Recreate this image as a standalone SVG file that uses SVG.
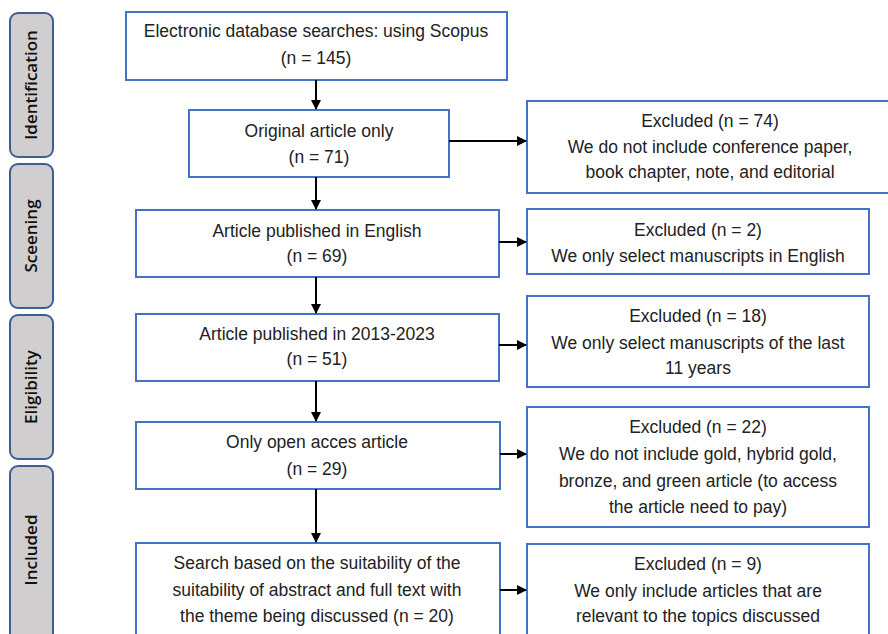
<svg xmlns="http://www.w3.org/2000/svg" width="888" height="634" viewBox="0 0 888 634">
<defs>
<marker id="ah" markerWidth="10" markerHeight="10" refX="9" refY="5" orient="auto" markerUnits="userSpaceOnUse">
<path d="M0,0 L10,5 L0,10 z" fill="#000"/>
</marker>
<style>
.box{fill:#fff;stroke:#4472c4;stroke-width:2}
.side{fill:#d0cece;stroke:#3e5f95;stroke-width:2}
.t{font-family:"Liberation Sans",Arial,sans-serif;font-size:17.5px;fill:#222;text-anchor:middle}
.s{font-family:"Open Sans","Liberation Sans",sans-serif;font-size:17px;font-weight:600;fill:#111;text-anchor:middle}
.c{stroke:#000;stroke-width:2;fill:none;marker-end:url(#ah)}
</style>
</defs>
<rect width="888" height="634" fill="#fff"/>
<g id="stage-identification"><rect class="side" x="10" y="13" width="43" height="144" rx="8"/><text class="s" transform="translate(37,85) rotate(-90)">Identification</text></g>
<g id="stage-screening"><rect class="side" x="10" y="164" width="43" height="144" rx="8"/><text class="s" transform="translate(37,236) rotate(-90)">Sceening</text></g>
<g id="stage-eligibility"><rect class="side" x="10" y="315" width="43" height="144" rx="8"/><text class="s" transform="translate(37,387) rotate(-90)">Eligibility</text></g>
<g id="stage-included"><rect class="side" x="10" y="466" width="43" height="180" rx="8"/><text class="s" transform="translate(37,550) rotate(-90)">Included</text></g>

<g id="n1"><rect class="box" x="126" y="12" width="381" height="68"/><text class="t" x="316" y="37">Electronic database searches: using Scopus</text><text class="t" x="316" y="64">(n = 145)</text></g>
<g id="n2"><rect class="box" x="189" y="110" width="260" height="67"/><text class="t" x="319" y="137">Original article only</text><text class="t" x="319" y="163">(n = 71)</text></g>
<g id="n3"><rect class="box" x="136" y="210" width="363" height="67"/><text class="t" x="317" y="237">Article published in English</text><text class="t" x="317" y="262">(n = 69)</text></g>
<g id="n4"><rect class="box" x="136" y="314" width="363" height="67"/><text class="t" x="317" y="340">Article published in 2013-2023</text><text class="t" x="317" y="365">(n = 51)</text></g>
<g id="n5"><rect class="box" x="136" y="422" width="364" height="67"/><text class="t" x="317" y="448">Only open acces article</text><text class="t" x="317" y="475">(n = 29)</text></g>
<g id="n6"><rect class="box" x="136" y="543" width="364" height="110"/><text class="t" x="317" y="569">Search based on the suitability of the</text><text class="t" x="317" y="596">suitability of abstract and full text with</text><text class="t" x="317" y="622">the theme being discussed (n = 20)</text></g>

<g id="e1"><rect class="box" x="527" y="101" width="380" height="92"/><text class="t" x="710" y="127">Excluded (n = 74)</text><text class="t" x="710" y="153">We do not include conference paper,</text><text class="t" x="710" y="178">book chapter, note, and editorial</text></g>
<g id="e2"><rect class="box" x="527" y="209" width="342" height="65"/><text class="t" x="698" y="236">Excluded (n = 2)</text><text class="t" x="698" y="262">We only select manuscripts in English</text></g>
<g id="e3"><rect class="box" x="527" y="296" width="342" height="91"/><text class="t" x="698" y="322">Excluded (n = 18)</text><text class="t" x="698" y="349">We only select manuscripts of the last</text><text class="t" x="698" y="374">11 years</text></g>
<g id="e4"><rect class="box" x="527" y="407" width="342" height="120"/><text class="t" x="698" y="433">Excluded (n = 22)</text><text class="t" x="698" y="460">We do not include gold, hybrid gold,</text><text class="t" x="698" y="487">bronze, and green article (to access</text><text class="t" x="698" y="513">the article need to pay)</text></g>
<g id="e5"><rect class="box" x="527" y="544" width="342" height="110"/><text class="t" x="698" y="570">Excluded (n = 9)</text><text class="t" x="698" y="597">We only include articles that are</text><text class="t" x="698" y="622">relevant to the topics discussed</text></g>

<g id="connectors">
<line class="c" x1="316" y1="80" x2="316" y2="109"/>
<line class="c" x1="316" y1="177" x2="316" y2="209"/>
<line class="c" x1="316" y1="277" x2="316" y2="313"/>
<line class="c" x1="316" y1="381" x2="316" y2="421"/>
<line class="c" x1="316" y1="489" x2="316" y2="542"/>
<line class="c" x1="449" y1="141" x2="526" y2="141"/>
<line class="c" x1="499" y1="242" x2="526" y2="242"/>
<line class="c" x1="499" y1="345" x2="526" y2="345"/>
<line class="c" x1="500" y1="454" x2="526" y2="454"/>
<line class="c" x1="500" y1="590" x2="526" y2="590"/>
</g>
</svg>
